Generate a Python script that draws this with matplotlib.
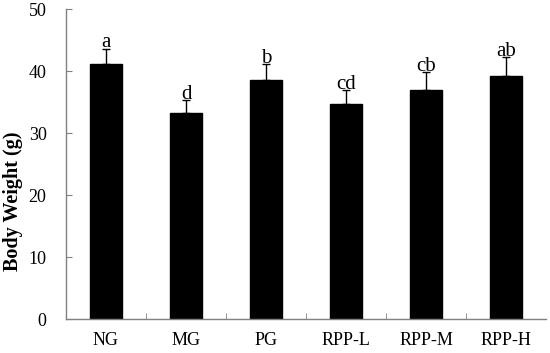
import numpy as np
import matplotlib.pyplot as plt

plt.rcParams['font.family'] = ['Liberation Serif', 'DejaVu Serif']

# datos
groups = ['NG', 'MG', 'PG', 'RPP-L', 'RPP-M', 'RPP-H']
weight = [41.2, 33.3, 38.5, 34.7, 37.0, 39.2]
sd = [2.4, 2.0, 2.6, 2.2, 2.8, 3.0]
letters = ['a', 'd', 'b', 'cd', 'cb', 'ab']

fig = plt.figure(figsize=(5.5, 3.53), dpi=100)
ax = fig.add_axes([0.12, 0.0963, 0.873, 0.8782])

x = np.arange(len(groups))
ax.bar(x, weight, width=0.4, color='black', edgecolor='black', zorder=2)
ax.errorbar(x, weight, yerr=[np.zeros(len(sd)), sd], fmt='none',
            ecolor='black', elinewidth=1, capsize=3, capthick=1, zorder=1)

# letras de significancia
for xi, w, s, lab in zip(x, weight, sd, letters):
    ax.text(xi, w + s + 0.2, lab, ha='center', va='baseline', fontsize=15)

ax.set_xlim(-0.5, len(groups) - 0.5)
ax.set_ylim(0, 50)
ax.set_yticks(range(0, 51, 10))
ax.set_xticks(x)
ax.set_xticklabels(groups)
ax.set_xticks(np.arange(0.5, len(groups) - 0.5, 1), minor=True)

ax.tick_params(axis='x', which='major', length=0, pad=9, labelsize=13)
ax.tick_params(axis='x', which='minor', direction='in', length=4, color='#808080')
ax.tick_params(axis='y', direction='in', length=4, color='#808080', pad=14, labelsize=13)

ax.set_ylabel('Body Weight (g)', fontsize=14.5, fontweight='bold')
ax.yaxis.set_label_coords(-0.09, 0.38)

for sp in ['top', 'right']:
    ax.spines[sp].set_visible(False)
for sp in ['left', 'bottom']:
    ax.spines[sp].set_color('#808080')
    ax.spines[sp].set_linewidth(1)

fig.savefig('out.png', dpi=100)
